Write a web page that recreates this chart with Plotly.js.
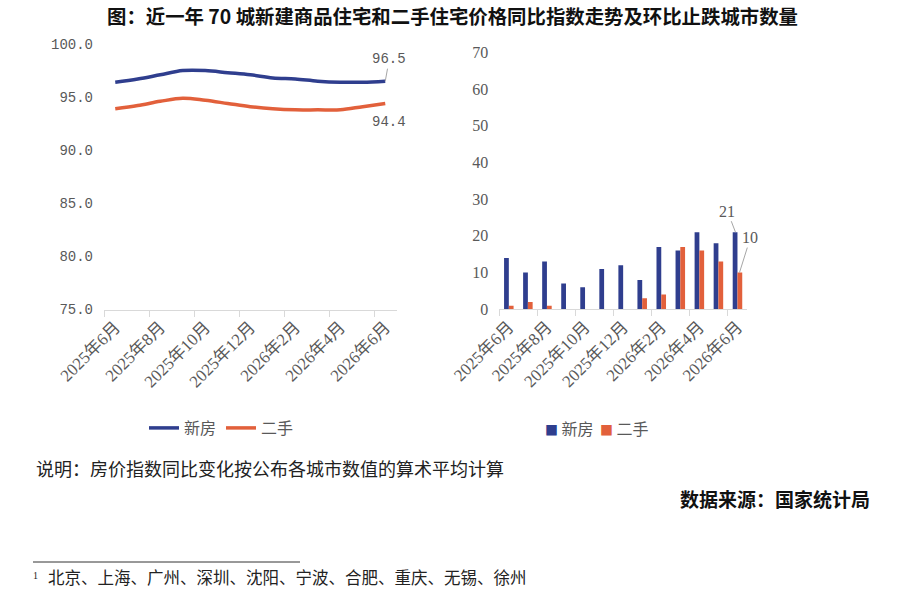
<!DOCTYPE html>
<html>
<head>
<meta charset="utf-8">
<script src="https://cdn.plot.ly/plotly-3.0.1.min.js"></script>
<style>
html,body{margin:0;padding:0;background:#fff;}
#chart{width:900px;height:590px;}
</style>
</head>
<body>
<div id="chart"></div>
<script>
// ---- data ----
const months = ["2025年6月","2025年7月","2025年8月","2025年9月","2025年10月","2025年11月","2025年12月",
                "2026年1月","2026年2月","2026年3月","2026年4月","2026年5月","2026年6月"];
const newHomeIndex = [96.4, 96.7, 97.1, 97.5, 97.5, 97.3, 97.1, 96.8, 96.7, 96.5, 96.4, 96.4, 96.5];
const usedHomeIndex = [93.9, 94.2, 94.6, 94.9, 94.7, 94.4, 94.1, 93.9, 93.8, 93.8, 93.8, 94.1, 94.4];
const newHomeCities = [14, 10, 13, 7, 6, 11, 12, 8, 17, 16, 21, 18, 21];
const usedHomeCities = [1, 2, 1, 0, 0, 0, 0, 3, 4, 17, 16, 13, 10];
const seriesNames = ["新房", "二手"];
const titleText = "图：近一年 70 城新建商品住宅和二手住宅价格同比指数走势及环比止跌城市数量";
const noteText = "说明：房价指数同比变化按公布各城市数值的算术平均计算";
const sourceText = "数据来源：国家统计局";
const footnoteMark = "1";
const footnoteText = "北京、上海、广州、深圳、沈阳、宁波、合肥、重庆、无锡、徐州";

// ---- derived ----
const idx = months.map((_, i) => i);
const lastIdx = idx[idx.length - 1];
const labelIdx = idx.filter(i => i % 2 === 0);
const labelText = labelIdx.map(i => months[i]);
const boundaryTicks = labelIdx.map(i => i - 0.5);

const BLUE = "#2f3e8e";
const ORANGE = "#e2603b";
const GRAY = "#595959";
const AXIS = "#d9d9d9";
const CJK = "Noto Sans CJK SC";
const W = 900, H = 590;
const px = v => v / W;
const py = v => (H - v) / H;

const xTickFont = {family: "Liberation Serif, " + CJK, size: 17, color: GRAY};

function xAxis(domain, anchor) {
  return {
    domain: domain, anchor: anchor,
    range: [-0.5, idx.length - 0.5],
    tickmode: "array", tickvals: labelIdx, ticktext: labelText,
    tickangle: -45, ticks: "",
    showline: true, linecolor: AXIS, linewidth: 1,
    showgrid: false, zeroline: false,
    minor: {tickmode: "array", tickvals: boundaryTicks, ticks: "outside", ticklen: 6, tickcolor: AXIS, tickwidth: 1, showgrid: false},
    tickfont: xTickFont, fixedrange: true
  };
}

const traces = [
  {x: idx, y: newHomeIndex, type: "scatter", mode: "lines", name: seriesNames[0],
   line: {color: BLUE, width: 3.5, shape: "spline", smoothing: 1}, xaxis: "x", yaxis: "y",
   hoverinfo: "skip"},
  {x: idx, y: usedHomeIndex, type: "scatter", mode: "lines", name: seriesNames[1],
   line: {color: ORANGE, width: 3.5, shape: "spline", smoothing: 1}, xaxis: "x", yaxis: "y",
   hoverinfo: "skip"},
  {x: idx, y: newHomeCities, type: "bar", name: seriesNames[0], marker: {color: BLUE},
   xaxis: "x2", yaxis: "y2", showlegend: false, hoverinfo: "skip"},
  {x: idx, y: usedHomeCities, type: "bar", name: seriesNames[1], marker: {color: ORANGE},
   xaxis: "x2", yaxis: "y2", showlegend: false, hoverinfo: "skip"}
];

function barLegendItem(xPix, color, name) {
  return {xref: "paper", yref: "paper", x: px(xPix), y: py(428), xanchor: "left", yanchor: "middle",
          showarrow: false,
          text: "<span style='font-size:13px;color:" + color + "'>■</span> " + name,
          font: {family: CJK, size: 16, color: GRAY}};
}

const layout = {
  width: W, height: H,
  margin: {l: 0, r: 0, t: 0, b: 0},
  paper_bgcolor: "#fff", plot_bgcolor: "#fff",
  barmode: "group", bargap: 0.5, bargroupgap: 0,
  showlegend: true,
  xaxis: xAxis([px(104), px(396.5)], "y"),
  yaxis: {domain: [py(309.5), py(44)], range: [75, 100], dtick: 5, tick0: 75, tickformat: ".1f",
          showgrid: false, zeroline: false, showline: false, ticks: "", ticklabelstandoff: 10,
          tickfont: {family: "Liberation Mono", size: 14, color: GRAY}, fixedrange: true},
  xaxis2: xAxis([px(499.3), px(747)], "y2"),
  yaxis2: {domain: [py(309.3), py(52.3)], range: [0, 70], dtick: 10, tick0: 0, anchor: "x2",
           showgrid: false, zeroline: false, showline: false, ticks: "", ticklabelstandoff: 10,
           tickfont: {family: "Liberation Serif", size: 16, color: GRAY}, fixedrange: true},
  legend: {orientation: "h", x: px(144), y: py(428), xanchor: "left", yanchor: "middle",
           font: {family: CJK, size: 16, color: GRAY}, bgcolor: "rgba(0,0,0,0)", itemwidth: 30},
  annotations: [
    {xref: "paper", yref: "paper", x: px(453), y: 1, xanchor: "center", yanchor: "top", borderpad: 0,
     text: "<b>" + titleText + "</b>", showarrow: false, font: {family: CJK, size: 19.4, color: "#111"}},
    {xref: "x", yref: "y", x: lastIdx, y: newHomeIndex[lastIdx], text: newHomeIndex[lastIdx].toFixed(1),
     showarrow: true, arrowhead: 0, arrowwidth: 1, arrowcolor: "#a6a6a6", ax: 4, ay: -22, standoff: 0,
     font: {family: "Liberation Mono", size: 14, color: GRAY}},
    {xref: "x", yref: "y", x: lastIdx, y: usedHomeIndex[lastIdx], text: usedHomeIndex[lastIdx].toFixed(1),
     showarrow: false, xshift: 4, yshift: -19, font: {family: "Liberation Mono", size: 14, color: GRAY}},
    {xref: "x2", yref: "y2", x: lastIdx, y: newHomeCities[lastIdx], text: String(newHomeCities[lastIdx]),
     showarrow: true, arrowhead: 0, arrowwidth: 1, arrowcolor: "#a6a6a6", ax: -8, ay: -21, standoff: 0, xshift: -2,
     font: {family: "Liberation Serif", size: 16, color: GRAY}},
    {xref: "x2", yref: "y2", x: lastIdx, y: usedHomeCities[lastIdx], text: String(usedHomeCities[lastIdx]),
     showarrow: true, arrowhead: 0, arrowwidth: 1, arrowcolor: "#a6a6a6", ax: 11, ay: -35, standoff: 0, xshift: 2,
     font: {family: "Liberation Serif", size: 16, color: GRAY}},
    barLegendItem(543, BLUE, seriesNames[0]),
    barLegendItem(598, ORANGE, seriesNames[1]),
    {xref: "paper", yref: "paper", x: px(34), y: py(468), xanchor: "left", yanchor: "middle",
     text: noteText, showarrow: false, font: {family: CJK, size: 18, color: "#222"}},
    {xref: "paper", yref: "paper", x: px(872), y: py(498), xanchor: "right", yanchor: "middle",
     text: "<b>" + sourceText + "</b>", showarrow: false, font: {family: CJK, size: 19, color: "#111"}},
    {xref: "paper", yref: "paper", x: px(32), y: py(575), xanchor: "left", yanchor: "middle",
     text: footnoteMark, showarrow: false, borderpad: 0, font: {family: "Liberation Serif", size: 10, color: "#222"}},
    {xref: "paper", yref: "paper", x: px(47), y: py(577), xanchor: "left", yanchor: "middle",
     text: footnoteText, showarrow: false, borderpad: 0, font: {family: CJK, size: 16.5, color: "#222"}}
  ],
  shapes: [
    {type: "line", xref: "paper", yref: "paper", x0: px(33), x1: px(300), y0: py(562), y1: py(562),
     line: {color: "#333", width: 1}}
  ]
};

Plotly.newPlot("chart", traces, layout, {displayModeBar: false, staticPlot: true});
</script>
</body>
</html>
